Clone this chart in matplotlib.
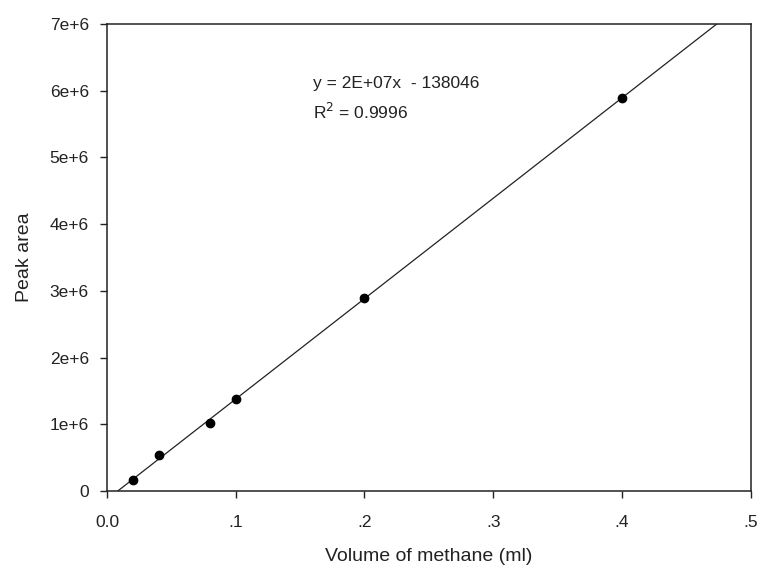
import numpy as np
import matplotlib
matplotlib.use('Agg')
import matplotlib.pyplot as plt

plt.rcParams['font.family'] = ['Liberation Sans', 'DejaVu Sans']

# calibration data
volume = [0.02, 0.04, 0.08, 0.1, 0.2, 0.4]
peak_area = [160000, 540000, 1015000, 1380000, 2900000, 5890000]

x_ticks = [0.0, 0.1, 0.2, 0.3, 0.4, 0.5]
x_labels = ['0.0', '.1', '.2', '.3', '.4', '.5']
y_ticks = [0, 1e6, 2e6, 3e6, 4e6, 5e6, 6e6, 7e6]
y_labels = ['0', '1e+6', '2e+6', '3e+6', '4e+6', '5e+6', '6e+6', '7e+6']

# trend line
coef = np.polyfit(volume, peak_area, 1)
xl = np.linspace(0, 0.5, 200)
yl = np.polyval(coef, xl)

fig = plt.figure(figsize=(7.6, 5.69), dpi=100)
ax = fig.add_axes([0.1408, 0.137, 0.847, 0.821])

ax.plot(xl, yl, color='#222222', lw=0.9)
ax.plot(volume, peak_area, 'o', color='black', ms=6)

ax.set_xlim(0, 0.5)
ax.set_ylim(0, 7e6)
ax.set_xticks(x_ticks)
ax.set_xticklabels(x_labels)
ax.set_yticks(y_ticks)
ax.set_yticklabels(y_labels)
ax.tick_params(direction='out', length=5, width=1, labelsize=12.5, colors='#222222')
ax.tick_params(axis='x', pad=12)
ax.tick_params(axis='y', pad=8)

for s in ax.spines.values():
    s.set_linewidth(1.1)
    s.set_color('#222222')

ax.set_xlabel('Volume of methane (ml)', fontsize=14, labelpad=13, color='#222222')
ax.set_ylabel('Peak area', fontsize=14, labelpad=12, color='#222222')

ax.text(0.16, 6.10e6, 'y = 2E+07x  - 138046', fontsize=12.5, color='#222222', va='center')
ax.text(0.16, 5.68e6, 'R$^2$ = 0.9996', fontsize=12.5, color='#222222', va='center')

fig.savefig('out.png', dpi=100)
